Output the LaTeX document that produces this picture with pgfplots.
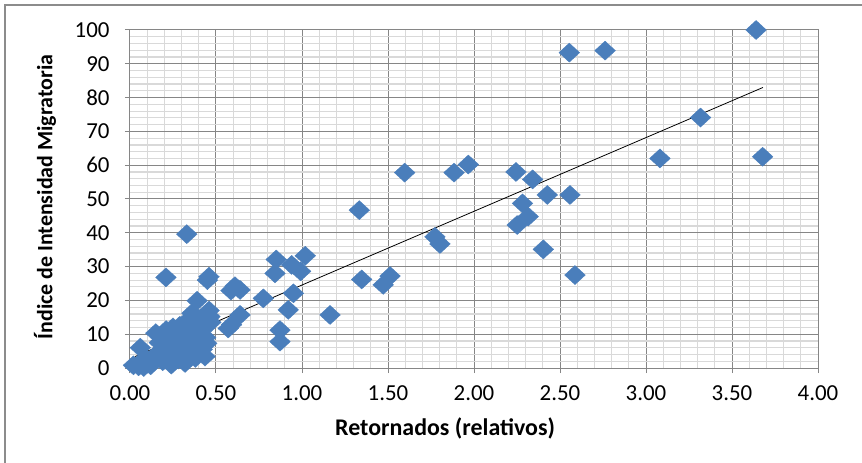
\documentclass[border=0pt]{standalone}
\usepackage{pgfplots}
\pgfplotsset{compat=1.18}
\usepackage{fontspec}
\setmainfont{Carlito}
\definecolor{exblue}{RGB}{74,126,187}
\definecolor{majgrid}{RGB}{134,134,134}
\definecolor{mingrid}{RGB}{217,217,217}
\definecolor{frame}{RGB}{140,140,140}
\pgfplotstableread{
x y
3.64 100.0
2.554 93.3
2.762 93.9
3.317 74.1
3.081 62.0
3.678 62.5
2.426 51.2
2.558 51.2
1.597 57.8
1.884 57.8
1.967 60.2
2.244 58.0
2.341 55.8
2.282 48.7
2.315 44.8
2.251 42.3
2.403 35.1
2.587 27.5
1.333 46.7
1.773 38.8
1.802 36.7
1.347 26.2
1.512 27.2
1.472 24.6
1.163 15.7
1.019 33.2
0.940 30.5
0.992 28.6
0.850 32.1
0.843 28.0
0.950 22.1
0.920 17.2
0.872 11.2
0.872 7.8
0.330 39.6
0.209 26.8
0.459 27.0
0.450 26.0
0.610 24.2
0.640 23.1
0.587 22.9
0.775 20.6
0.390 19.9
0.465 15.2
0.640 15.7
0.571 11.7
0.590 12.8
0.446 7.3
0.436 3.4
0.02 0.8
0.05 0.5
0.08 0.3
0.10 1.5
0.12 0.8
0.06 6.0
0.09 3.0
0.14 3.5
0.15 10.3
0.17 7.5
0.18 5.0
0.19 2.0
0.21 11.2
0.22 8.5
0.23 4.0
0.24 1.0
0.26 6.5
0.27 10.5
0.28 2.5
0.29 12.5
0.30 8.0
0.31 4.5
0.32 1.5
0.33 13.8
0.34 10.0
0.35 6.0
0.36 16.2
0.37 12.0
0.38 3.0
0.39 8.5
0.40 14.5
0.41 11.0
0.42 5.5
0.43 13.0
0.44 9.0
0.45 14.6
0.47 13.5
0.25 12.0
0.46 17.0
}\datatable
\begin{document}
\begin{tikzpicture}
\useasboundingbox (-130bp,-95bp) rectangle (732bp,368bp);
\draw[frame, line width=2.5bp] (-125bp,-120bp) -- (-125bp,363bp) -- (760bp,363bp);
\begin{axis}[
  scale only axis,
  width=688bp, height=338bp,
  xmin=0, xmax=4, ymin=0, ymax=100,
  xtick={0,0.5,...,4}, ytick={0,10,...,100},
  minor x tick num=4, minor y tick num=4,
  grid=both,
  major grid style={majgrid, line width=1bp},
  minor grid style={mingrid, line width=1.2bp},
  axis line style={majgrid, line width=1bp},
  tick style={majgrid, line width=1bp},
  tick align=outside, tick pos=left,
  major tick length=5bp, minor tick length=0pt,
  /pgf/number format/assume math mode=true,
  tick label style={font=\fontsize{23}{27}\selectfont, black},
  xticklabel style={yshift=-9bp, /pgf/number format/.cd, fixed, fixed zerofill, precision=2},
  yticklabel style={xshift=-12bp, /pgf/number format/.cd, fixed, precision=0},
  label style={font=\fontsize{24}{28}\selectfont\bfseries},
  xlabel={Retornados (relativos)},
  ylabel={Índice de Intensidad Migratoria},
  xlabel style={at={(axis description cs:0.458,-0.1775)}, anchor=center},
  ylabel style={at={(axis description cs:-0.1235,0.506)}, anchor=center, font=\fontsize{22}{26}\selectfont\bfseries},
]
\addplot[only marks, mark=diamond*, mark size=9.5bp,
  mark options={xscale=1.45, fill=exblue, draw=exblue}] table[x=x, y=y] {\datatable};
\addplot[black, line width=0.8bp] coordinates {(0.03,3.4) (3.68,83.0)};
\end{axis}
\end{tikzpicture}
\end{document}
